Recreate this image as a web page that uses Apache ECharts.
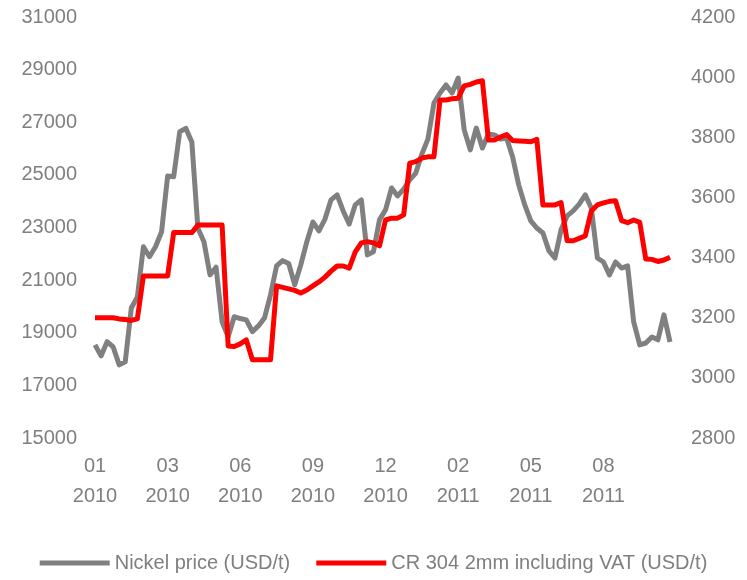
<!DOCTYPE html>
<html>
<head>
<meta charset="utf-8">
<script src="https://cdn.jsdelivr.net/npm/echarts@6/dist/echarts.min.js"></script>
<style>
  html, body { margin: 0; padding: 0; background: #fff; }
  #chart { width: 747px; height: 580px; }
</style>
</head>
<body>
<div id="chart"></div>
<script>
// weekly observations, first week of Jan 2010 onward
var startDate = '2010-01-01';
var weekCount = 96;

var nickelPrice = [
  18540, 18120, 18660, 18460, 17780, 17900, 19940, 20360, 22270, 21890,
  22270, 22840, 24960, 24930, 26640, 26770, 26250, 22970, 22460, 21200,
  21490, 19420, 18850, 19610, 19540, 19490, 19040, 19260, 19560, 20440,
  21540, 21740, 21630, 20820, 21580, 22460, 23210, 22870, 23320, 24050,
  24240, 23630, 23130, 23860, 24050, 21960, 22080, 23290, 23670, 24500,
  24200, 24460, 24810, 25070, 25790, 26360, 27730, 28110, 28420, 28110,
  28680, 26710, 25950, 26780, 26020, 26550, 26520, 26360, 26400, 25680,
  24620, 23860, 23250, 22980, 22790, 22110, 21840, 22910, 23440, 23630,
  23890, 24240, 23740, 21840, 21690, 21200, 21690, 21460, 21540, 19410,
  18540, 18610, 18840, 18730, 19680, 18650
];

var cr304Price = [
  3200, 3200, 3200, 3200, 3196, 3194, 3191, 3196, 3339, 3339,
  3339, 3339, 3339, 3483, 3483, 3483, 3483, 3508, 3508, 3508,
  3508, 3508, 3106, 3104, 3113, 3126, 3060, 3060, 3060, 3060,
  3306, 3301, 3296, 3291, 3282, 3292, 3306, 3319, 3335, 3355,
  3372, 3372, 3365, 3419, 3449, 3453, 3449, 3439, 3525, 3531,
  3531, 3542, 3714, 3719, 3731, 3735, 3735, 3924, 3924, 3928,
  3930, 3971, 3976, 3984, 3988, 3791, 3791, 3801, 3809, 3789,
  3788, 3787, 3785, 3793, 3575, 3575, 3575, 3583, 3456, 3456,
  3464, 3472, 3555, 3575, 3582, 3587, 3589, 3523, 3516, 3525,
  3517, 3395, 3394, 3387, 3392, 3401
];

var seriesNames = ['Nickel price (USD/t)', 'CR 304 2mm including VAT (USD/t)'];

var weeks = [];
var d0 = new Date(startDate + 'T00:00:00Z');
for (var i = 0; i < weekCount; i++) {
  var d = new Date(d0.getTime() + i * 7 * 86400000);
  var mm = ('0' + (d.getUTCMonth() + 1)).slice(-2);
  weeks.push(mm + '\n' + d.getUTCFullYear());
}

var textGrey = '#7f7f7f';
var font = 'Liberation Sans, Arial, sans-serif';
var plain = function (v) { return String(v); };

var chart = echarts.init(document.getElementById('chart'), null, { renderer: 'canvas' });

var option = {
  backgroundColor: '#ffffff',
  animation: false,
  color: ['#808080', '#ff0000'],
  grid: { left: 95, right: 77, top: 17, height: 421 },
  legend: {
    bottom: 2,
    left: 'center',
    icon: 'rect',
    itemWidth: 70,
    itemHeight: 5,
    itemGap: 26,
    textStyle: { color: textGrey, fontSize: 20, fontFamily: font },
    data: seriesNames
  },
  xAxis: {
    type: 'category',
    data: weeks,
    boundaryGap: false,
    axisLine: { show: false },
    axisTick: { show: false },
    splitLine: { show: false },
    axisLabel: {
      interval: 11,
      margin: 13,
      color: textGrey,
      fontSize: 20,
      lineHeight: 30,
      fontFamily: font
    }
  },
  yAxis: [{
    type: 'value',
    min: 15000,
    max: 31000,
    interval: 2000,
    axisLine: { show: false },
    axisTick: { show: false },
    splitLine: { show: false },
    axisLabel: { margin: 18, color: textGrey, fontSize: 20, fontFamily: font, formatter: plain }
  }, {
    type: 'value',
    min: 2800,
    max: 4200,
    interval: 200,
    axisLine: { show: false },
    axisTick: { show: false },
    splitLine: { show: false },
    axisLabel: { margin: 21, color: textGrey, fontSize: 20, fontFamily: font, formatter: plain }
  }],
  series: [{
    name: seriesNames[0],
    type: 'line',
    yAxisIndex: 0,
    data: nickelPrice,
    showSymbol: false,
    lineStyle: { width: 5, color: '#808080', join: 'round' }
  }, {
    name: seriesNames[1],
    type: 'line',
    yAxisIndex: 1,
    data: cr304Price,
    showSymbol: false,
    lineStyle: { width: 5, color: '#ff0000', join: 'round' }
  }]
};

chart.setOption(option);
</script>
</body>
</html>
